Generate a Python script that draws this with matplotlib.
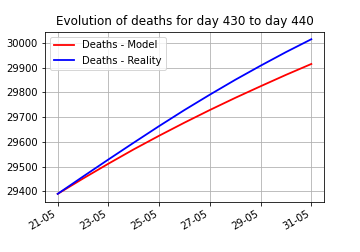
import matplotlib
matplotlib.use("Agg")
import matplotlib.pyplot as plt
import matplotlib.dates as mdates
import pandas as pd

# === Données ===
days = pd.date_range("2021-05-21", "2021-05-31", freq="D")
deaths_model = [29390, 29452, 29512, 29570, 29625, 29678, 29729, 29778, 29825, 29871, 29915]
deaths_reality = [29390, 29460, 29529, 29597, 29664, 29729, 29791, 29851, 29908, 29963, 30015]

# === Graphique ===
fig, ax = plt.subplots(figsize=(5, 3.5), dpi=72)
ax.plot(days, deaths_model, color="red", linewidth=1.8, label="Deaths - Model")
ax.plot(days, deaths_reality, color="blue", linewidth=1.8, label="Deaths - Reality")
ax.set_title("Evolution of deaths for day 430 to day 440")
ax.xaxis.set_major_locator(mdates.DayLocator(interval=2))
ax.xaxis.set_major_formatter(mdates.DateFormatter("%d-%m"))
ax.grid(True)
ax.legend(loc="upper left")
fig.autofmt_xdate()
fig.subplots_adjust(left=0.125, right=0.9, top=0.875, bottom=0.2)
fig.savefig("out.png", dpi=72)
